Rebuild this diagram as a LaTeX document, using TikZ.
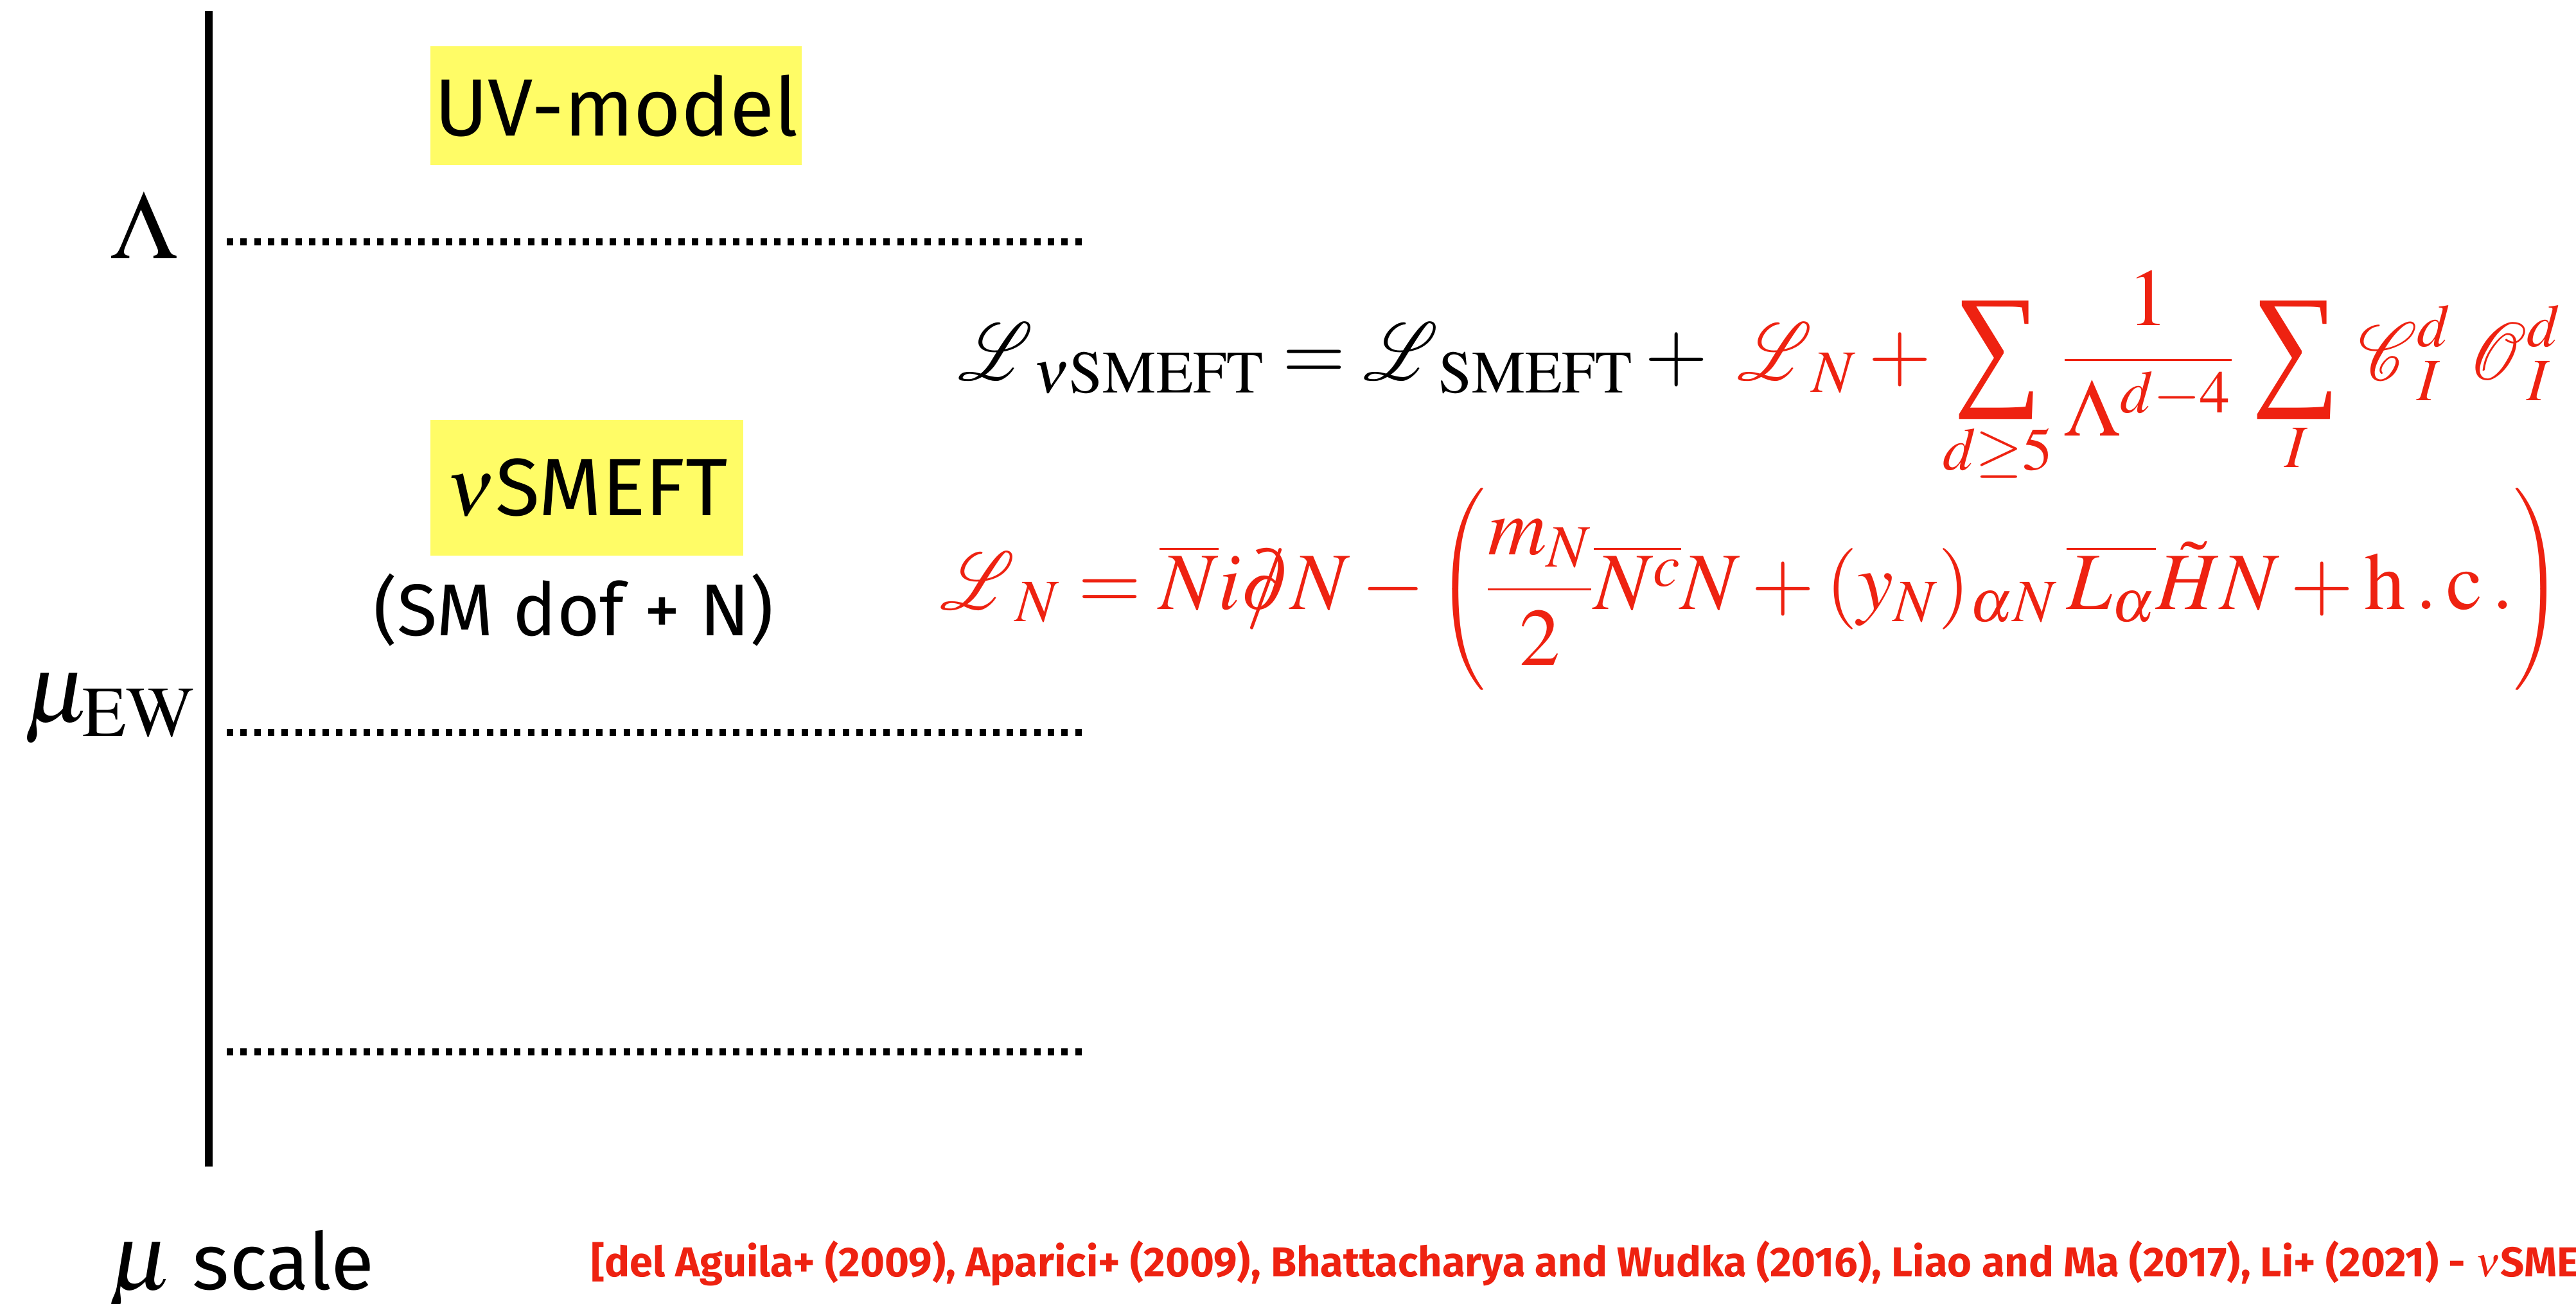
\documentclass[tikz,border=0pt]{standalone}
\usepackage{amsmath}
\usepackage{mathptmx}
\usepackage{mathrsfs}
\DeclareSymbolFont{largesymbols}{OMX}{lmex}{m}{n}
\usepackage{fontspec}
\setmainfont{Liberation Serif}
\setsansfont{Fira Sans}
\usetikzlibrary{positioning}
\definecolor{slidered}{RGB}{238,34,17}
\definecolor{slideyellow}{RGB}{255,252,102}
\newcommand{\dslash}{\hbox{\ooalign{$\partial$\cr\hidewidth$/$\hidewidth\cr}}}
\newcommand{\bigscr}[1]{\mathord{\scalebox{1.25}[1.45]{$\mathscr{#1}$}}}
\newcommand{\bigsum}{\mathop{\vcenter{\hbox{\resizebox*{39pt}{52.5pt}{\rmfamily\char"2211}}}}\limits}
\tikzset{
    labelbox/.style={
        rectangle,
        fill=slideyellow,
        inner sep=0pt,
        text centered,
        font=\sffamily\fontsize{36}{43}\selectfont
    },
    scaleline/.style={
        line width=0.11cm,
        dash pattern=on 0.1cm off 0.113cm
    },
    axisline/.style={
        line width=0.12cm
    },
    mathlabel/.style={
        inner sep=0pt,
        font=\fontsize{43}{50}\selectfont
    },
    eqline/.style={
        inner sep=0pt,
        anchor=base west,
        font=\fontsize{36}{43}\selectfont
    }
}

\begin{document}
\begin{tikzpicture}
    \useasboundingbox (0,0) rectangle (40.10,20.29);
    \clip (0,0) rectangle (40.10,20.29);

    % Scale axis
    \coordinate (axtop) at (3.25,20.12);
    \coordinate (axbot) at (3.25,2.13);
    \draw[axisline] (axtop) -- (axbot);

    % Scale levels
    \coordinate (lamL) at (3.53,16.52);
    \coordinate (lamR) at (16.88,16.52);
    \coordinate (ewL) at (3.53,8.88);
    \coordinate (ewR) at (16.88,8.88);
    \coordinate (lowL) at (3.53,3.92);
    \coordinate (lowR) at (16.88,3.92);
    \draw[scaleline] (lamL) -- (lamR);
    \draw[scaleline] (ewL) -- (ewR);
    \draw[scaleline] (lowL) -- (lowR);

    \node[mathlabel, anchor=base] (lam) at (2.24,16.26) {$\Lambda$};
    \node[mathlabel, anchor=base west] (muew) at (0.37,9.05) {$\mu_{\mathrm{EW}}$};

    % Theories
    \node[labelbox, minimum width=5.78cm, minimum height=1.85cm] (uv) at (9.59,18.645) {UV-model};
    \node[labelbox, minimum width=4.87cm, minimum height=2.11cm] (nusmeft) at (9.135,12.695) {$\nu$SMEFT};
    \node[font=\sffamily\fontsize{32.5}{38}\selectfont, inner sep=0pt] (dof) at (8.93,10.79) {(SM dof + N)};

    % Lagrangians
    \node[eqline] (lagfull) at (14.91,14.37) {$\displaystyle \bigscr{L}_{\nu\mathrm{SMEFT}} = \bigscr{L}_{\mathrm{SMEFT}} + \;\color{slidered} \bigscr{L}_N + \bigsum_{d\geq 5}\frac{1}{\Lambda^{d-4}}\,\bigsum_I \,\bigscr{C}_I^d\;\bigscr{O}_I^d$};
    \node[eqline, text=slidered] (lagN) at (14.63,10.80) {$\displaystyle \bigscr{L}_N = \overline{N} i\dslash N - \biggl(\frac{m_N}{2}\overline{N^c}N + (y_N)_{\alpha N}\,\overline{L_\alpha}\tilde{H}N + \mathrm{h\,.\,c\,.}\biggr)$};

    % Bottom line
    \node[anchor=base west, inner sep=0pt] (muscale) at (1.68,0.22) {\fontsize{42}{50}\selectfont$\mu$\hspace{0.3cm}\sffamily\fontsize{35}{42}\selectfont scale};
    \node[anchor=base west, inner sep=0pt, text=slidered, font=\sffamily\bfseries\fontsize{18.5}{22}\selectfont] (refs) at (9.20,0.42) {[del Aguila+ (2009), Aparici+ (2009), Bhattacharya and Wudka (2016), Liao and Ma (2017), Li+ (2021) - $\nu$SME};
\end{tikzpicture}
\end{document}
